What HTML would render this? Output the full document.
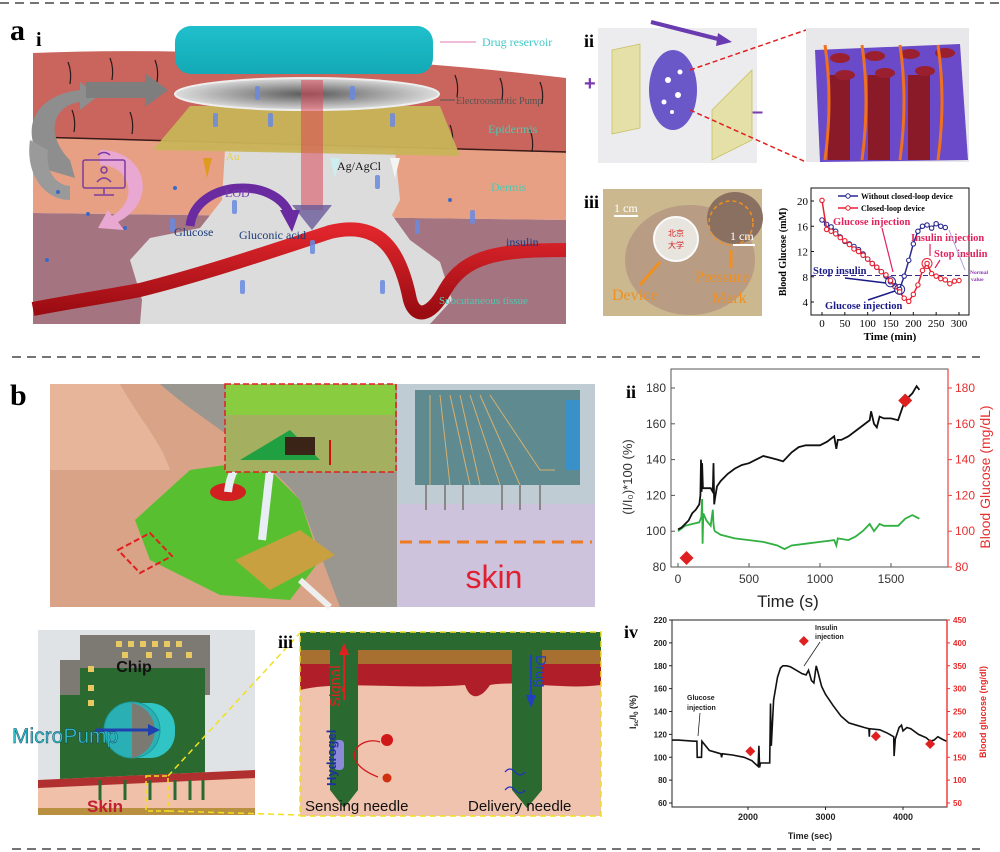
<!DOCTYPE html>
<html><head><meta charset="utf-8">
<style>
html,body{margin:0;padding:0;background:#fff;}
svg{display:block;}
text{font-family:"Liberation Sans",sans-serif;}
.serif{font-family:"Liberation Serif",serif;}
</style></head>
<body>
<svg id="fig" width="1000" height="852" viewBox="0 0 1000 852" xmlns="http://www.w3.org/2000/svg">
<defs>
<linearGradient id="resv" x1="0" y1="0" x2="0" y2="1"><stop offset="0" stop-color="#1fc0cc"/><stop offset="1" stop-color="#13a9b6"/></linearGradient>
<radialGradient id="pump" cx="0.5" cy="0.5" r="0.5"><stop offset="0" stop-color="#5a5a5a"/><stop offset="1" stop-color="#dcdcdc"/></radialGradient>
<linearGradient id="vessel" x1="0" y1="0" x2="0" y2="1"><stop offset="0" stop-color="#e0262c"/><stop offset="1" stop-color="#9a0c12"/></linearGradient>
</defs>
<line x1="0" y1="3" x2="1000" y2="3" stroke="#222" stroke-width="1.2" stroke-dasharray="9,6"/>
<line x1="12" y1="357" x2="980" y2="357" stroke="#222" stroke-width="1.2" stroke-dasharray="9,6"/>
<line x1="12" y1="849" x2="980" y2="849" stroke="#222" stroke-width="1.2" stroke-dasharray="9,6"/>

<text x="10" y="40" class="serif" font-size="30" font-weight="bold">a</text>
<text x="36" y="46" class="serif" font-size="20" font-weight="bold">i</text>
<text x="10" y="405" class="serif" font-size="30" font-weight="bold">b</text>

<g>
  <path d="M33,53 Q150,48 300,56 T566,78 L566,152 L33,137 Z" fill="#c9655c"/>
  <path d="M33,137 L566,152 L566,220 L33,213 Z" fill="#e8a085"/>
  <path d="M33,213 L566,220 L566,324 L33,324 Z" fill="#a57481"/>
  <line x1="33" y1="137" x2="566" y2="152" stroke="#3a1a18" stroke-width="1.5"/>
  <path d="M225,150 L395,150 L400,200 L392,215 L410,240 L440,262 L452,300 L430,324 L140,324 L142,300 L130,260 L150,238 L200,228 L222,200 Z" fill="#dcdcdc"/>
  <path d="M33,309 C80,300 110,296 140,290 C200,275 260,255 330,232 C380,220 400,250 410,300 C415,318 430,318 445,290 C465,255 500,250 566,250" fill="none" stroke="url(#vessel)" stroke-width="14"/>
  <g stroke="#2a1a1a" stroke-width="1.2" fill="none">
    <path d="M68,62 q4,10 2,22"/><path d="M110,58 q4,10 2,22"/><path d="M155,60 q4,10 2,22"/><path d="M72,110 q4,10 2,22"/><path d="M130,112 q4,10 2,22"/><path d="M455,75 q4,10 2,22"/><path d="M500,78 q4,10 2,22"/><path d="M540,82 q4,10 2,22"/><path d="M450,125 q4,10 2,22"/><path d="M530,130 q4,10 2,22"/>
  </g>
  <path d="M48,170 C15,130 35,95 80,90 L80,82 L98,96 L80,110 L80,102 C52,106 45,135 70,160 L75,178 Z" fill="#8e8e8e"/>
  <path d="M30,140 C25,175 45,200 70,200 L70,186 C55,185 45,170 48,150 Z" fill="#9a9a9a"/>
  <polygon points="86,82 145,82 145,73 168,90 145,107 145,98 86,98" fill="#7e7e7e"/>
  <path d="M100,150 C145,150 160,200 118,222 L124,230 L98,228 L108,210 L112,216 C140,200 130,165 100,165 Z" fill="#e8a8d2"/>
  <g stroke="#7a3aa0" stroke-width="1.5" fill="none">
    <rect x="83" y="160" width="42" height="28" rx="2"/><line x1="104" y1="188" x2="104" y2="194"/><line x1="94" y1="195" x2="114" y2="195"/>
    <circle cx="104" cy="170" r="3"/><path d="M97,182 q7,-8 14,0"/><path d="M98,155 q6,-5 12,0"/>
  </g>
  <rect x="175" y="26" width="258" height="48" rx="16" fill="url(#resv)"/>
  <polygon points="190,106 440,106 460,156 153,150" fill="#c8b458" opacity="0.95"/>
  <ellipse cx="307" cy="94" rx="132" ry="16" fill="url(#pump)" stroke="#eee" stroke-width="2"/>
  <polygon points="203,158 212,158 207,178" fill="#e09a20"/>
  <polygon points="330,158 340,158 335,178" fill="#cdeef0"/>
  <polygon points="390,158 400,158 395,178" fill="#f4f4f0"/>
  <rect x="301" y="80" width="22" height="130" fill="#d84858" opacity="0.55"/>
  <polygon points="292,205 332,205 312,230" fill="#6a5a98" opacity="0.8"/>
  <path d="M190,226 C195,180 275,175 290,215" fill="none" stroke="#6a2aa0" stroke-width="9"/>
  <polygon points="280,210 300,210 292,232" fill="#6a2aa0"/>
  <g fill="#3a6ac8">
    <circle cx="58" cy="192" r="2"/><circle cx="88" cy="214" r="2"/><circle cx="175" cy="188" r="2"/><circle cx="450" cy="200" r="2"/><circle cx="47" cy="260" r="2"/><circle cx="125" cy="228" r="2"/>
  </g>
  <g fill="#6a8ae0" opacity="0.85">
    <rect x="213" y="113" width="5" height="14" rx="2"/><rect x="268" y="113" width="5" height="14" rx="2"/><rect x="390" y="113" width="5" height="14" rx="2"/><rect x="255" y="86" width="5" height="14" rx="2"/><rect x="350" y="86" width="5" height="14" rx="2"/><rect x="375" y="175" width="5" height="14" rx="2"/><rect x="232" y="200" width="5" height="14" rx="2"/><rect x="170" y="218" width="5" height="14" rx="2"/><rect x="415" y="220" width="5" height="14" rx="2"/><rect x="470" y="210" width="5" height="14" rx="2"/><rect x="310" y="240" width="5" height="14" rx="2"/><rect x="240" y="280" width="5" height="14" rx="2"/><rect x="380" y="280" width="5" height="14" rx="2"/>
  </g>
  <line x1="440" y1="42" x2="476" y2="42" stroke="#e890c0" stroke-width="1.2"/>
  <text x="482" y="46" class="serif" font-size="12" fill="#40c8c8">Drug reservoir</text>
  <line x1="440" y1="100" x2="455" y2="100" stroke="#555" stroke-width="1"/>
  <text x="456" y="104" class="serif" font-size="10" fill="#555">Electroosmotic Pump</text>
  <text x="488" y="133" class="serif" font-size="12" fill="#50c8b0">Epidermis</text>
  <text x="491" y="191" class="serif" font-size="12" fill="#50c8b0">Dermis</text>
  <text x="226" y="160" class="serif" font-size="11" fill="#e8d040">Au</text>
  <text x="337" y="170" class="serif" font-size="12" fill="#111">Ag/AgCl</text>
  <text x="225" y="197" class="serif" font-size="12" fill="#7a3ab0">LOD</text>
  <text x="174" y="236" class="serif" font-size="12" fill="#1a3a7a">Glucose</text>
  <text x="239" y="239" class="serif" font-size="12" fill="#1a3a7a">Gluconic acid</text>
  <text x="506" y="246" class="serif" font-size="12" fill="#1a3a7a">insulin</text>
  <text x="439" y="304" class="serif" font-size="11" fill="#50c8b0">Subcutaneous tissue</text>
</g>

<text x="584" y="47" class="serif" font-size="18" font-weight="bold">ii</text>
<g>
  <rect x="598" y="28" width="159" height="135" fill="#ececee"/>
  <polygon points="612,50 640,44 640,128 612,134" fill="#e4e0a8" stroke="#c8c060" stroke-width="0.8"/>
  <polygon points="712,110 752,70 752,140 712,160" fill="#e4e0a8" stroke="#c8c060" stroke-width="0.8"/>
  <ellipse cx="673" cy="90" rx="24" ry="40" fill="#6a58c8"/>
  <g fill="#fff"><circle cx="668" cy="80" r="3"/><circle cx="678" cy="95" r="3"/><circle cx="664" cy="102" r="2.5"/><circle cx="680" cy="72" r="2.5"/><circle cx="672" cy="112" r="2"/></g>
  <line x1="651" y1="22" x2="722" y2="40" stroke="#6a3ab0" stroke-width="4"/>
  <polygon points="718,33 732,42 716,46" fill="#6a3ab0"/>
  <text x="584" y="90" font-size="20" font-weight="bold" fill="#7a3ab0">+</text>
  <text x="752" y="118" font-size="20" font-weight="bold" fill="#7a3ab0">–</text>
  <line x1="690" y1="70" x2="806" y2="30" stroke="#e02020" stroke-width="1.5" stroke-dasharray="5,3"/>
  <line x1="690" y1="110" x2="806" y2="162" stroke="#e02020" stroke-width="1.5" stroke-dasharray="5,3"/>
  <rect x="806" y="28" width="163" height="134" fill="#e8e8ea"/>
  <polygon points="815,50 960,44 968,160 820,162" fill="#6a4ac8"/>
  <g fill="#8a1a28"><rect x="828" y="75" width="22" height="85"/><rect x="868" y="75" width="22" height="85"/><rect x="908" y="75" width="22" height="85"/></g>
  <g fill="#9a2030"><ellipse cx="840" cy="58" rx="10" ry="5"/><ellipse cx="875" cy="56" rx="10" ry="5"/><ellipse cx="910" cy="54" rx="10" ry="5"/><ellipse cx="945" cy="53" rx="10" ry="5"/><ellipse cx="845" cy="75" rx="10" ry="5"/><ellipse cx="885" cy="73" rx="10" ry="5"/><ellipse cx="925" cy="71" rx="10" ry="5"/></g>
  <g stroke="#f07020" stroke-width="3" fill="none"><path d="M825,160 q8,-60 0,-115"/><path d="M862,160 q8,-60 0,-115"/><path d="M900,160 q8,-60 0,-115"/><path d="M938,160 q8,-60 0,-115"/></g>
</g>

<text x="584" y="208" class="serif" font-size="18" font-weight="bold">iii</text>
<g>
  <rect x="603" y="189" width="159" height="127" fill="#cbb88e"/>
  <ellipse cx="690" cy="260" rx="65" ry="55" fill="#b89c84"/>
  <ellipse cx="735" cy="218" rx="28" ry="26" fill="#8a7060"/>
  <circle cx="676" cy="239" r="22" fill="#e8e4de" stroke="#fafafa" stroke-width="2"/>
  <text x="676" y="236" font-family="Noto Sans CJK SC,sans-serif" font-size="8" fill="#d02020" text-anchor="middle">北京</text>
  <text x="676" y="248" font-family="Noto Sans CJK SC,sans-serif" font-size="8" fill="#d02020" text-anchor="middle">大学</text>
  <circle cx="731" cy="223" r="22" fill="none" stroke="#f09020" stroke-width="1.5" stroke-dasharray="4,3"/>
  <text x="614" y="212" class="serif" font-size="12" fill="#fff">1 cm</text>
  <line x1="614" y1="216" x2="638" y2="216" stroke="#fff" stroke-width="2"/>
  <text x="730" y="240" class="serif" font-size="12" fill="#fff">1 cm</text>
  <line x1="733" y1="245" x2="755" y2="245" stroke="#fff" stroke-width="2"/>
  <text x="612" y="300" class="serif" font-size="16" fill="#f09020">Device</text>
  <text x="695" y="282" class="serif" font-size="16" fill="#f09020">Pressure</text>
  <text x="712" y="303" class="serif" font-size="16" fill="#f09020">Mark</text>
  <line x1="640" y1="285" x2="660" y2="262" stroke="#f09020" stroke-width="3"/>
  <line x1="731" y1="268" x2="731" y2="250" stroke="#f09020" stroke-width="3"/>
</g>
<g id="chartA"></g>

<text x="58" y="412" class="serif" font-size="18" font-weight="bold">i</text>
<g>
  <rect x="50" y="384" width="347" height="223" fill="#9a9690"/>
  <path d="M50,384 L160,384 C200,420 260,450 300,500 L340,607 L50,607 Z" fill="#d8a386"/>
  <path d="M50,384 L120,384 C140,420 160,440 170,470 L50,470 Z" fill="#e6b59a"/>
  <path d="M135,520 L190,470 L260,460 L300,500 L320,560 L290,600 L220,595 L150,560 Z" fill="#58c030"/>
  <ellipse cx="228" cy="492" rx="18" ry="9" fill="#d02020"/>
  <path d="M228,492 C232,455 260,440 270,470 L262,540" fill="none" stroke="#e8eef4" stroke-width="8"/>
  <polygon points="235,560 300,530 335,555 270,590" fill="#c8a040"/>
  <line x1="300" y1="580" x2="330" y2="607" stroke="#eee" stroke-width="6"/>
  <polygon points="118,550 150,533 172,556 140,573" fill="none" stroke="#e02020" stroke-width="2" stroke-dasharray="6,3"/>
  <rect x="225" y="384" width="171" height="88" fill="#a4b060" stroke="#e02020" stroke-width="1.5" stroke-dasharray="6,3"/>
  <rect x="226" y="385" width="169" height="30" fill="#8acc40"/>
  <polygon points="240,460 290,430 320,460" fill="#20a040"/>
  <rect x="285" y="437" width="30" height="18" fill="#3a2418"/>
  <line x1="330" y1="440" x2="330" y2="465" stroke="#d01010" stroke-width="2"/>
  <rect x="397" y="384" width="198" height="223" fill="#cdc3dc"/>
  <rect x="397" y="384" width="198" height="120" fill="#c0ccd4"/>
  <rect x="415" y="390" width="165" height="95" fill="#5e8a90"/>
  <rect x="565" y="400" width="15" height="70" fill="#3a90c8"/>
  <g stroke="#d8b070" stroke-width="1" fill="none"><path d="M430,395 L430,485"/><path d="M440,395 L450,485"/><path d="M450,395 L470,485"/><path d="M460,395 L480,485"/><path d="M470,395 L500,485"/><path d="M480,395 L520,485"/><path d="M490,395 L540,470 L555,470"/></g>
  <g stroke="#888" stroke-width="2"><line x1="426" y1="485" x2="426" y2="510"/><line x1="445" y1="485" x2="445" y2="510"/><line x1="463" y1="485" x2="463" y2="510"/><line x1="502" y1="485" x2="502" y2="510"/><line x1="520" y1="485" x2="520" y2="510"/><line x1="540" y1="485" x2="540" y2="510"/></g>
  <line x1="400" y1="542" x2="592" y2="542" stroke="#f07a20" stroke-width="3" stroke-dasharray="12,7"/>
  <text x="494" y="588" font-size="32" fill="#e02030" text-anchor="middle">skin</text>
</g>

<g>
  <rect x="38" y="630" width="217" height="185" fill="#dfe3e6"/>
  <rect x="80" y="635" width="130" height="60" fill="#7c7a72"/>
  <path d="M60,660 L80,660 L80,730 L60,730 Z" fill="#7c7a72"/>
  <polygon points="60,695 80,695 80,668 205,668 205,780 60,780" fill="#2a6a30"/>
  <g fill="#e8c860"><rect x="116" y="641" width="6" height="6"/><rect x="128" y="641" width="6" height="6"/><rect x="140" y="641" width="6" height="6"/><rect x="152" y="641" width="6" height="6"/><rect x="164" y="641" width="6" height="6"/><rect x="176" y="641" width="6" height="6"/><rect x="122" y="652" width="6" height="6"/><rect x="146" y="652" width="6" height="6"/><rect x="166" y="652" width="6" height="6"/><rect x="186" y="652" width="6" height="6"/><rect x="88" y="666" width="6" height="6"/><rect x="88" y="685" width="6" height="6"/><rect x="88" y="700" width="6" height="6"/></g>
  <text x="134" y="672" font-size="16" font-weight="bold" fill="#111" text-anchor="middle">Chip</text>
  <rect x="115" y="703" width="60" height="55" rx="25" fill="#30c4c4"/>
  <ellipse cx="132" cy="730" rx="28" ry="28" fill="#2ab0b4" stroke="#1a9898"/>
  <path d="M132,703 A28,28 0 0 1 132,758 Z" fill="#7a7a72"/>
  <line x1="95" y1="730" x2="150" y2="730" stroke="#2040b0" stroke-width="3"/>
  <polygon points="148,724 160,730 148,736" fill="#2040b0"/>
  <text x="12" y="743" font-size="21" fill="#30c0c8" stroke="#135" stroke-width="0.4">MicroPump</text>
  <path d="M38,780 L255,770 L255,815 L38,815 Z" fill="#f0c0a8"/>
  <path d="M38,780 L255,770 L255,778 L38,788 Z" fill="#b03030"/>
  <rect x="38" y="808" width="217" height="7" fill="#b89040"/>
  <g stroke="#2a6a30" stroke-width="3"><line x1="100" y1="780" x2="100" y2="800"/><line x1="125" y1="780" x2="125" y2="800"/><line x1="150" y1="780" x2="150" y2="800"/><line x1="175" y1="780" x2="175" y2="800"/><line x1="190" y1="780" x2="190" y2="800"/><line x1="203" y1="780" x2="203" y2="800"/></g>
  <rect x="146" y="776" width="22" height="35" fill="none" stroke="#f0e020" stroke-width="1.5" stroke-dasharray="5,3"/>
  <text x="105" y="812" font-size="17" font-weight="bold" fill="#c02030" text-anchor="middle">Skin</text>
  <line x1="168" y1="776" x2="300" y2="633" stroke="#f0e020" stroke-width="1.5" stroke-dasharray="6,4"/>
  <line x1="168" y1="811" x2="300" y2="815" stroke="#f0e020" stroke-width="1.5" stroke-dasharray="6,4"/>
</g>

<text x="278" y="648" class="serif" font-size="18" font-weight="bold">iii</text>
<g>
  <rect x="300" y="632" width="301" height="184" fill="#efc3ad"/>
  <rect x="300" y="632" width="301" height="18" fill="#2a6a30"/>
  <rect x="300" y="650" width="301" height="14" fill="#a87030"/>
  <path d="M300,664 L601,664 L601,685 C560,690 520,680 490,685 C480,700 470,700 465,685 C400,690 340,680 300,690 Z" fill="#b01e2a"/>
  <polygon points="330,632 358,632 358,790 344,808 330,790" fill="#2a6a30"/>
  <polygon points="512,632 542,632 542,790 527,808 512,790" fill="#2a6a30"/>
  <rect x="334" y="740" width="10" height="30" rx="4" fill="#8a8ad8"/>
  <line x1="344" y1="700" x2="344" y2="650" stroke="#e02020" stroke-width="2"/>
  <polygon points="339,655 344,643 349,655" fill="#e02020"/>
  <text transform="translate(340,707) rotate(-90)" font-size="15" fill="#e02020">Signal</text>
  <text transform="translate(336,786) rotate(-90)" font-size="13" font-weight="bold" fill="#2030a0">Hydrogel</text>
  <line x1="531" y1="655" x2="531" y2="700" stroke="#2040c0" stroke-width="2"/>
  <polygon points="526,695 531,708 536,695" fill="#2040c0"/>
  <text transform="translate(536,655) rotate(90)" font-size="15" fill="#2040c0">Drug</text>
  <circle cx="387" cy="740" r="6" fill="#d01818"/><circle cx="387" cy="778" r="4.5" fill="#d03010"/>
  <path d="M380,742 C360,735 335,760 378,777" fill="none" stroke="#d01818" stroke-width="1.3"/>
  <g stroke="#2030c0" stroke-width="1.3" fill="none"><path d="M505,772 q5,-6 10,0 t10,0"/><path d="M505,790 q5,-6 10,0 t10,0"/></g>
  <text x="305" y="811" font-size="15" fill="#111">Sensing needle</text>
  <text x="468" y="811" font-size="15" fill="#111">Delivery needle</text>
  <rect x="300" y="632" width="301" height="184" fill="none" stroke="#f0e020" stroke-width="1.5" stroke-dasharray="6,4"/>
</g>

<text x="626" y="398" class="serif" font-size="18" font-weight="bold">ii</text>
<g id="chartB"></g>
<text x="624" y="638" class="serif" font-size="18" font-weight="bold">iv</text>
<g id="chartC"></g>
<text transform="translate(636,712) rotate(-90)" font-size="9" font-weight="bold" text-anchor="middle" fill="#222">I<tspan font-size="6" dy="2">sc</tspan><tspan dy="-2">/I</tspan><tspan font-size="6" dy="2">0</tspan><tspan dy="-2"> (%)</tspan></text>
</svg>

<script>
var aTimes = [0,10,20,30,40,50,60,70,80,90,100,110,120,130,140,150,160,170,180,190,200,210,220,230,240,250,260,270,280,290,300];
var aWithout = [17,16.3,15.9,15.2,14.3,13.6,13.2,12.8,12.3,11.6,10.8,10.1,9.5,8.8,8.1,7.2,6.6,6.0,8.1,10.6,13.2,15.2,16,16.2,15.7,16.4,16,15.8,null,null,null];
var aClosed = [20.1,15.5,15.2,14.8,14.2,13.7,13.1,12.4,12,11.4,10.8,10.1,9.5,8.8,8.3,7.4,6.4,5.6,4.6,4.1,5.2,6.7,9.0,10.1,8.5,8.1,7.7,7.5,6.9,7.3,7.4];
var aYTicks = [4,8,12,16,20];
var aXTicks = [0,50,100,150,200,250,300];
var aNormal = 8.2;

var bBlackT = [0,25,50,75,100,125,150,158,162,166,170,175,200,230,245,250,255,260,275,300,350,400,450,500,550,600,650,700,740,800,850,900,950,1000,1050,1100,1115,1125,1150,1200,1250,1300,1350,1360,1380,1400,1420,1450,1500,1550,1580,1600,1650,1680,1700];
var bBlackV = [101,102,104,106,110,112,115,120,140,122,138,124,124,124,122,138,115,118,125,128,132,135,137,138,140,142,141,140,139,144,147,148,148,148,150,153,146,151,151,153,156,159,162,167,160,158,164,163,163,162,169,173,177,181,179];
var bGreenT = [0,50,100,150,165,170,173,178,200,230,245,250,255,260,300,400,500,600,700,750,800,900,1000,1100,1115,1125,1200,1250,1300,1350,1380,1420,1450,1500,1550,1600,1650,1700];
var bGreenV = [100,103,104,105,108,118,93,110,106,103,112,104,101,100,98,96,95,94,92,90,92,93,94,95,92,96,95,97,100,104,100,104,103,103,103,107,109,107];
var bDiamT = [60,1600];
var bDiamV = [85,173];
var bYTicks = [80,100,120,140,160,180];
var bXTicks = [0,500,1000,1500];

var cTimes = [1020,1100,1300,1340,1345,1400,1405,1500,1650,1660,1670,1800,1950,2050,2130,2140,2150,2160,2280,2290,2300,2330,2380,2420,2450,2500,2550,2600,2700,2750,2780,2820,2850,2880,2900,2950,3000,3100,3200,3300,3400,3500,3560,3565,3570,3700,3800,3880,3885,3900,3950,3980,4000,4050,4100,4200,4300,4350,4400,4450,4500,4560];
var cValues = [115,115,114,114,100,100,114,106,103,100,103,102,100,97,92,110,91,95,95,147,110,150,170,178,180,180,179,177,173,172,176,167,165,180,175,162,155,145,136,130,128,126,125,118,125,124,121,118,101,116,126,128,123,126,125,120,117,114,115,118,116,114];
var cDiamT = [2030,2720,3650,4350];
var cDiamV = [163,404,196,179];
var cYTicks = [60,80,100,120,140,160,180,200,220];
var cRTicks = [50,100,150,200,250,300,350,400,450];
var cXTicks = [2000,3000,4000];

var NS = "http://www.w3.org/2000/svg";
function mk(parent, tag, attrs, txt){
  var e = document.createElementNS(NS, tag);
  for (var k in attrs) e.setAttribute(k, attrs[k]);
  if (txt !== undefined) e.textContent = txt;
  parent.appendChild(e);
  return e;
}
function pathFrom(ts, vs, fx, fy){
  var d = "", started = false;
  for (var i=0;i<ts.length;i++){
    if (vs[i]===null){ started=false; continue; }
    d += (started?"L":"M") + fx(ts[i]).toFixed(1) + "," + fy(vs[i]).toFixed(1);
    started = true;
  }
  return d;
}

(function(){
  var g = document.getElementById("chartA");
  var x0=811,x1=969,y0=188,y1=315;
  var fx = function(t){ return 822 + t*(137/300); };
  var fy = function(v){ return 201 + (20-v)*(101/16); };
  var frame = mk(g,"rect",{x:x0,y:y0,width:x1-x0,height:y1-y0,fill:"#fff",stroke:"#111","stroke-width":1});
  
  
  aYTicks.forEach(function(v){
    mk(g,"line",{x1:x0,y1:fy(v),x2:x0+3,y2:fy(v),stroke:"#111"});
    var t = mk(g,"text",{x:x0-3,y:fy(v)+4,"font-size":11,"text-anchor":"end","class":"serif"},v);
    
    
  });
  aXTicks.forEach(function(v){
    mk(g,"line",{x1:fx(v),y1:y1,x2:fx(v),y2:y1-3,stroke:"#111"});
    var t = mk(g,"text",{x:fx(v),y:y1+12,"font-size":11,"text-anchor":"middle","class":"serif"},v);
    
    
  });
  var xt = mk(g,"text",{x:890,y:340,"font-size":11,"font-weight":"bold","text-anchor":"middle","class":"serif"},"Time (min)");
  
  
  var yt = mk(g,"text",{transform:"translate(786,252) rotate(-90)","font-size":10,"font-weight":"bold","text-anchor":"middle","class":"serif"},"Blood Glucose (mM)");
  
  
  var nl = mk(g,"line",{x1:x0,y1:fy(aNormal),x2:x1,y2:fy(aNormal),stroke:"#3a2a8a","stroke-dasharray":"5,3","stroke-width":1});
  
  
  [[aWithout,"#2a2a90"],[aClosed,"#e82030"]].forEach(function(s,si){
    var p = mk(g,"path",{d:pathFrom(aTimes,s[0],fx,fy),fill:"none",stroke:s[1],"stroke-width":1.5});
    
    
    for (var i=0;i<aTimes.length;i++){
      if (s[0][i]===null) continue;
      var c = mk(g,"circle",{cx:fx(aTimes[i]),cy:fy(s[0][i]),r:2.2,fill:"#fff",stroke:s[1],"stroke-width":1.1});
      
      
    }
  });
  mk(g,"circle",{cx:fx(150),cy:fy(7.2),r:5,fill:"none",stroke:"#2a2a90"});
  mk(g,"circle",{cx:fx(170),cy:fy(6.0),r:5,fill:"none",stroke:"#2a2a90"});
  mk(g,"circle",{cx:fx(230),cy:fy(10.1),r:5,fill:"none",stroke:"#e82030"});
  mk(g,"line",{x1:838,y1:196,x2:858,y2:196,stroke:"#2a2a90","stroke-width":1.5});
  mk(g,"circle",{cx:848,cy:196,r:2.2,fill:"#fff",stroke:"#2a2a90"});
  var l1 = mk(g,"text",{x:861,y:199,"font-size":8,"font-weight":"bold","class":"serif"},"Without closed-loop device");
  
  
  mk(g,"line",{x1:838,y1:208,x2:858,y2:208,stroke:"#e82030","stroke-width":1.5});
  mk(g,"circle",{cx:848,cy:208,r:2.2,fill:"#fff",stroke:"#e82030"});
  var l2 = mk(g,"text",{x:861,y:211,"font-size":8,"font-weight":"bold","class":"serif"},"Closed-loop device");
  
  
  var ann = [["Glucose injection",833,225,"#e0245e",10.5],["Insulin injection",911,241,"#e0245e",10.5],["Stop insulin",934,257,"#e0245e",10.5],["Stop insulin",813,274,"#1a1a88",10.5],["Glucose injection",825,309,"#1a1a88",10.5],["Normal",970,274,"#8a3ab0",5.5],["value",971,281,"#8a3ab0",5.5]];
  ann.forEach(function(a){
    var t = mk(g,"text",{x:a[1],y:a[2],"font-size":a[4],"font-weight":"bold",fill:a[3],"class":"serif"},a[0]);
    
    
  });
  mk(g,"line",{x1:882,y1:228,x2:893,y2:272,stroke:"#e0245e","stroke-width":1.2});
  mk(g,"line",{x1:930,y1:244,x2:930,y2:256,stroke:"#e0245e","stroke-width":1.2});
  mk(g,"line",{x1:940,y1:260,x2:935,y2:268,stroke:"#e0245e","stroke-width":1.2});
  mk(g,"line",{x1:845,y1:278,x2:886,y2:283,stroke:"#1a1a88","stroke-width":1.5});
  mk(g,"line",{x1:868,y1:300,x2:895,y2:291,stroke:"#1a1a88","stroke-width":1.5});
  mk(g,"line",{x1:949,y1:230,x2:965,y2:270,stroke:"#b0a0e0","stroke-width":1});
})();

(function(){
  var g = document.getElementById("chartB");
  var x0=671,x1=948,y0=369,y1=567;
  var fx = function(t){ return 678 + t*(213/1500); };
  var fy = function(v){ return 567 - (v-80)*1.79; };
  var frame = mk(g,"rect",{x:x0,y:y0,width:x1-x0,height:y1-y0,fill:"#fff",stroke:"#555","stroke-width":1});
  
  
  mk(g,"line",{x1:x1,y1:y0,x2:x1,y2:y1,stroke:"#f04040","stroke-width":1.2});
  bYTicks.forEach(function(v){
    mk(g,"line",{x1:x0,y1:fy(v),x2:x0+4,y2:fy(v),stroke:"#555"});
    mk(g,"line",{x1:x1,y1:fy(v),x2:x1+4,y2:fy(v),stroke:"#f04040"});
    var t = mk(g,"text",{x:x0-5,y:fy(v)+4,"font-size":12,"text-anchor":"end",fill:"#333"},v);
    
    
    var t2 = mk(g,"text",{x:x1+7,y:fy(v)+4,"font-size":12,fill:"#e83030"},v);
    
    
  });
  bXTicks.forEach(function(v){
    mk(g,"line",{x1:fx(v),y1:y1,x2:fx(v),y2:y1-4,stroke:"#555"});
    var t = mk(g,"text",{x:fx(v),y:583,"font-size":12,"text-anchor":"middle",fill:"#333"},v);
    
    
  });
  var xt = mk(g,"text",{x:788,y:607,"font-size":17,"text-anchor":"middle",fill:"#222"},"Time (s)");
  
  
  var yt = mk(g,"text",{transform:"translate(632,477) rotate(-90)","font-size":13,"text-anchor":"middle",fill:"#333"},"(I/I\u2080)*100 (%)");
  
  
  var yr = mk(g,"text",{transform:"translate(990,477) rotate(-90)","font-size":14,"text-anchor":"middle",fill:"#e83030"},"Blood Glucose (mg/dL)");
  
  
  var pg = mk(g,"path",{d:pathFrom(bGreenT,bGreenV,fx,fy),fill:"none",stroke:"#30b040","stroke-width":1.8});
  
  
  var pb = mk(g,"path",{d:pathFrom(bBlackT,bBlackV,fx,fy),fill:"none",stroke:"#111","stroke-width":1.8});
  
  
  for (var i=0;i<bDiamT.length;i++){
    var cx=fx(bDiamT[i]), cy=fy(bDiamV[i]), s=7;
    var d = mk(g,"polygon",{points:(cx)+","+(cy-s)+" "+(cx+s)+","+cy+" "+cx+","+(cy+s)+" "+(cx-s)+","+cy,fill:"#e02020"});
    
    
  }
})();

(function(){
  var g = document.getElementById("chartC");
  var x0=672,x1=947,y0=620,y1=807;
  var fx = function(t){ return 748 + (t-2000)*0.0775; };
  var fy = function(v){ return 620 + (220-v)*(183/160); };
  var fr = function(v){ return 620 + (450-v)*(183/400); };
  var frame = mk(g,"rect",{x:x0,y:y0,width:x1-x0,height:y1-y0,fill:"#fff",stroke:"#222","stroke-width":1});
  
  
  mk(g,"line",{x1:x1,y1:y0,x2:x1,y2:y1,stroke:"#f03030","stroke-width":1.4});
  cYTicks.forEach(function(v){
    mk(g,"line",{x1:x0,y1:fy(v),x2:x0-3,y2:fy(v),stroke:"#222"});
    var t = mk(g,"text",{x:x0-5,y:fy(v)+3,"font-size":8,"font-weight":"bold","text-anchor":"end",fill:"#222"},v);
    
    
  });
  cRTicks.forEach(function(v){
    mk(g,"line",{x1:x1,y1:fr(v),x2:x1+3,y2:fr(v),stroke:"#f03030"});
    var t = mk(g,"text",{x:x1+6,y:fr(v)+3,"font-size":8,"font-weight":"bold",fill:"#e82828"},v);
    
    
  });
  cXTicks.forEach(function(v){
    mk(g,"line",{x1:fx(v),y1:y1,x2:fx(v),y2:y1+3,stroke:"#222"});
    var t = mk(g,"text",{x:fx(v),y:820,"font-size":9,"font-weight":"bold","text-anchor":"middle",fill:"#222"},v);
    
    
  });
  var xt = mk(g,"text",{x:810,y:839,"font-size":9,"font-weight":"bold","text-anchor":"middle",fill:"#222"},"Time (sec)");
  
  
  var yr = mk(g,"text",{transform:"translate(986,712) rotate(-90)","font-size":9,"font-weight":"bold","text-anchor":"middle",fill:"#e82828"},"Blood glucose (ng/dl)");
  
  
  var p = mk(g,"path",{d:pathFrom(cTimes,cValues,fx,fy),fill:"none",stroke:"#111","stroke-width":1.6});
  
  
  for (var i=0;i<cDiamT.length;i++){
    var cx=fx(cDiamT[i]), cy=fr(cDiamV[i]), s=5;
    var d = mk(g,"polygon",{points:(cx)+","+(cy-s)+" "+(cx+s)+","+cy+" "+cx+","+(cy+s)+" "+(cx-s)+","+cy,fill:"#e02020"});
    
    
  }
  var a1 = mk(g,"text",{x:687,y:700,"font-size":7,"font-weight":"bold",fill:"#222"},"Glucose");
  
  
  mk(g,"text",{x:687,y:710,"font-size":7,"font-weight":"bold",fill:"#222"},"injection");
  mk(g,"line",{x1:700,y1:713,x2:698,y2:736,stroke:"#222","stroke-width":0.8});
  var a2 = mk(g,"text",{x:815,y:630,"font-size":7,"font-weight":"bold",fill:"#222"},"Insulin");
  
  
  mk(g,"text",{x:815,y:639,"font-size":7,"font-weight":"bold",fill:"#222"},"injection");
  mk(g,"line",{x1:820,y1:642,x2:804,y2:666,stroke:"#222","stroke-width":0.8});
})();
</script>
</body></html>
